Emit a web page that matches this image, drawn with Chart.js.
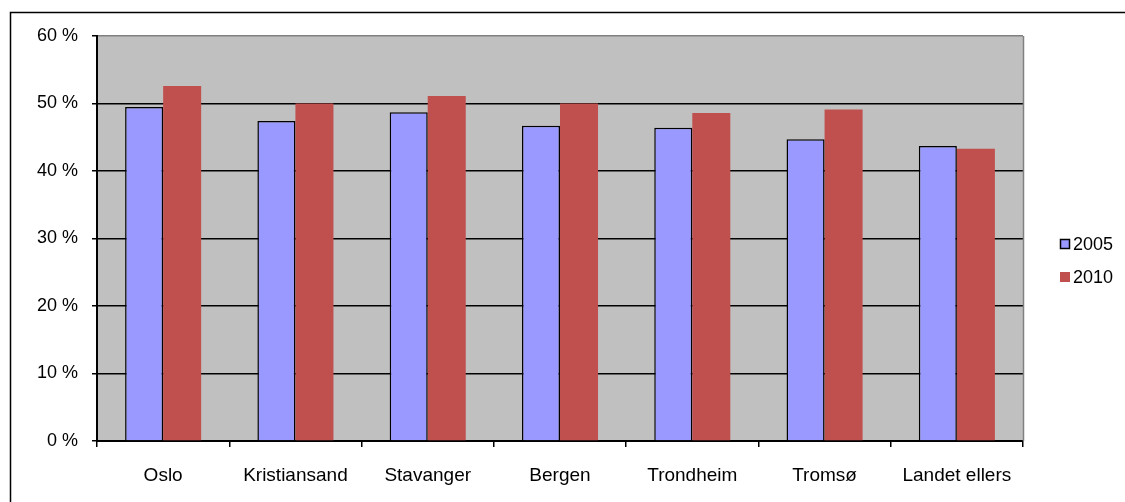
<!DOCTYPE html>
<html>
<head>
<meta charset="utf-8">
<script src="https://cdn.jsdelivr.net/npm/chart.js@4/dist/chart.umd.min.js"></script>
<style>
html,body{margin:0;padding:0;background:#fff;}
#wrap{width:1125px;height:502px;position:relative;}
</style>
</head>
<body>
<div id="wrap"><canvas id="c" width="1125" height="502"></canvas></div>
<script>
const categories = ['Oslo','Kristiansand','Stavanger','Bergen','Trondheim','Tromsø','Landet ellers'];
const seriesNames = ['2005','2010'];
const values2005 = [49.5, 47.4, 48.7, 46.7, 46.4, 44.7, 43.7];
const values2010 = [52.6, 50.0, 51.1, 50.0, 48.6, 49.1, 43.3];
const yTicks = [0, 10, 20, 30, 40, 50, 60];

const FONT = "'Liberation Sans', Arial, sans-serif";

const bgPlugin = {
  id: 'bg',
  beforeDraw(chart) {
    const {ctx, chartArea: a} = chart;
    ctx.save();
    ctx.fillStyle = '#fff';
    ctx.fillRect(0, 0, chart.width, chart.height);
    ctx.fillStyle = '#C0C0C0';
    ctx.fillRect(a.left, a.top, a.right - a.left, a.bottom - a.top);
    ctx.restore();
  },
  afterDraw(chart) {
    const {ctx, chartArea: a} = chart;
    ctx.save();
    ctx.strokeStyle = '#808080';
    ctx.lineWidth = 1.5;
    ctx.beginPath();
    ctx.moveTo(a.right + 0.5, a.top);
    ctx.lineTo(a.right + 0.5, a.bottom);
    ctx.stroke();
    ctx.strokeStyle = '#000';
    ctx.lineWidth = 1.5;
    ctx.strokeRect(10.5, 12.5, 1130, 600);
    ctx.font = '18px ' + FONT;
    ctx.textBaseline = 'middle';
    ctx.textAlign = 'left';
    const ys = [244, 277];
    chart.data.datasets.forEach((ds, i) => {
      const y = ys[i];
      ctx.fillStyle = ds.backgroundColor;
      ctx.fillRect(1060, y - 5, 10, 10);
      if (ds.borderWidth) {
        ctx.strokeStyle = '#000';
        ctx.lineWidth = 1.5;
        ctx.strokeRect(1060.5, y - 4.5, 9, 9);
      }
      ctx.fillStyle = '#000';
      ctx.fillText(ds.label, 1073, y + 1);
    });
    ctx.restore();
  }
};

new Chart(document.getElementById('c'), {
  type: 'bar',
  data: {
    labels: categories,
    datasets: [
      { label: seriesNames[0], data: values2005, backgroundColor: '#9999FF', borderColor: '#000', borderWidth: 1.5,
        categoryPercentage: 0.575, barPercentage: 1 },
      { label: seriesNames[1], data: values2010, backgroundColor: '#C0504D', borderWidth: 0,
        categoryPercentage: 0.575, barPercentage: 1 }
    ]
  },
  options: {
    responsive: false,
    animation: false,
    devicePixelRatio: 1,
    layout: { padding: { left: 0, right: 102, top: 36, bottom: 0 } },
    plugins: { legend: { display: false }, tooltip: { enabled: false } },
    scales: {
      x: {
        offset: true,
        afterFit(s) { s.height = 61; },
        grid: { offset: true, drawOnChartArea: false, drawTicks: true, tickLength: 6, color: '#000', lineWidth: 1.5 },
        border: { color: '#000', width: 2 },
        ticks: { color: '#000', font: { family: FONT, size: 19 }, padding: 17, maxRotation: 0 }
      },
      y: {
        min: 0, max: 60,
        afterFit(s) { s.width = 97; },
        afterBuildTicks(s) { s.ticks = yTicks.map(v => ({ value: v })); },
        grid: {
          color: (ctx) => (ctx.tick && ctx.tick.value === 60) ? '#808080' : '#000',
          tickColor: '#000',
          tickLength: 5,
          lineWidth: 1.5
        },
        border: { color: '#000', width: 2 },
        ticks: { color: '#000', font: { family: FONT, size: 18 }, padding: 14,
          callback: (v) => v + ' %' }
      }
    }
  },
  plugins: [bgPlugin]
});
</script>
</body>
</html>
